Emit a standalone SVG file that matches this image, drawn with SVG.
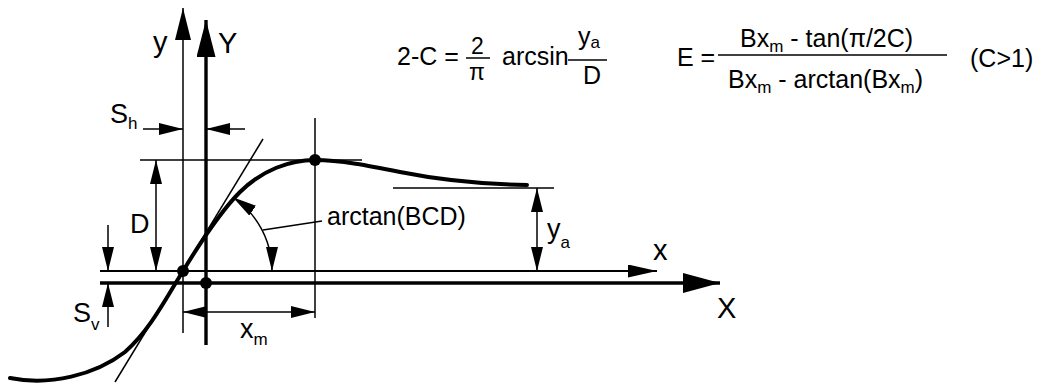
<svg xmlns="http://www.w3.org/2000/svg" width="1043" height="385" viewBox="0 0 1043 385">
<style>
text{font-family:"Liberation Sans",Arial,sans-serif;fill:#000}
.lbl{font-size:29px}
.dl{font-size:27px}
.fm{font-size:25px}
.fs{font-size:23px}
.sub{font-size:17px}
.thin{stroke:#000;stroke-width:1.5;fill:none}
.mid{stroke:#000;stroke-width:2.2;fill:none}
.thick{stroke:#000;stroke-width:3.4;fill:none}
.curve{stroke:#000;stroke-width:4;fill:none;stroke-linecap:round}
</style>
<defs>
<marker id="ad" markerUnits="userSpaceOnUse" markerWidth="24" markerHeight="12" refX="24" refY="6" orient="auto-start-reverse"><path d="M0,0 L24,6 L0,12 z" fill="#000"/></marker>
<marker id="ay" markerUnits="userSpaceOnUse" markerWidth="32" markerHeight="16" refX="32" refY="8" orient="auto"><path d="M0,0 L32,8 L0,16 z" fill="#000"/></marker>
<marker id="aY" markerUnits="userSpaceOnUse" markerWidth="37" markerHeight="19" refX="37" refY="9.5" orient="auto"><path d="M0,0 L37,9.5 L0,19 z" fill="#000"/></marker>
<marker id="ax" markerUnits="userSpaceOnUse" markerWidth="29" markerHeight="13" refX="29" refY="6.5" orient="auto"><path d="M0,0 L29,6.5 L0,13 z" fill="#000"/></marker>
<marker id="aX" markerUnits="userSpaceOnUse" markerWidth="37" markerHeight="20" refX="37" refY="10" orient="auto"><path d="M0,0 L37,10 L0,20 z" fill="#000"/></marker>
</defs>

<g id="axes">
<line id="axis-y" class="thin" x1="183" y1="333" x2="183" y2="8" marker-end="url(#ay)"/>
<line id="axis-Y" class="thick" x1="206" y1="345" x2="206" y2="20" marker-end="url(#aY)"/>
<line id="axis-x" class="mid" x1="100" y1="271" x2="657" y2="271" marker-end="url(#ax)"/>
<line id="axis-X" class="thick" x1="100" y1="283" x2="720" y2="283" marker-end="url(#aX)"/>
</g>

<g id="connectors">
<line class="thin" x1="140" y1="160" x2="362" y2="160"/>
<line class="thin" x1="393" y1="188" x2="554" y2="188"/>
<line class="thin" x1="315" y1="118" x2="315" y2="318"/>
<line class="thin" x1="263" y1="139" x2="115" y2="382"/>
<line class="thin" x1="143" y1="129" x2="183" y2="129" marker-end="url(#ad)"/>
<line class="thin" x1="245" y1="129" x2="206" y2="129" marker-end="url(#ad)"/>
<line class="thin" x1="108" y1="225" x2="108" y2="271" marker-end="url(#ad)"/>
<line class="thin" x1="108" y1="327" x2="108" y2="283" marker-end="url(#ad)"/>
<line class="thin" x1="156" y1="160" x2="156" y2="271" marker-start="url(#ad)" marker-end="url(#ad)"/>
<line class="thin" x1="537" y1="188" x2="537" y2="271" marker-start="url(#ad)" marker-end="url(#ad)"/>
<line class="thin" x1="183" y1="312" x2="315" y2="312" marker-start="url(#ad)" marker-end="url(#ad)"/>
<path class="thin" d="M232.8,197.2 A89,89 0 0 1 272,271" marker-start="url(#ad)" marker-end="url(#ad)"/>
<line class="thin" x1="263" y1="230" x2="322" y2="221"/>
</g>

<g id="curve">
<path class="curve" d="M10,378 C50,386 95,375 125,352 C150,330 165,300 183,271 C200,243 220,212 240,192 C262,170 290,160 315,160 C340,160 370,166 400,172 C430,178 470,184 527,185"/>
<circle cx="183" cy="271" r="6"/>
<circle cx="206" cy="283" r="6"/>
<circle cx="315" cy="160" r="6"/>
</g>

<g id="labels">
<text class="lbl" x="153" y="52">y</text>
<text class="lbl" x="218" y="53">Y</text>
<text class="lbl" x="653" y="260">x</text>
<text class="lbl" x="717" y="318">X</text>
<text class="dl" x="110" y="123">S<tspan class="sub" dy="6">h</tspan></text>
<text class="dl" x="130" y="233">D</text>
<text class="dl" x="73" y="322">S<tspan class="sub" dy="8">v</tspan></text>
<text class="dl" x="240" y="338">x<tspan class="sub" dy="7">m</tspan></text>
<text class="dl" x="547" y="238">y<tspan class="sub" dy="10">a</tspan></text>
<text class="fm" x="327" y="225">arctan(BCD)</text>
</g>

<g id="formula1">
<text class="fm" x="397" y="65">2-C =</text>
<text class="fs" x="471" y="54">2</text>
<line class="thin" x1="466" y1="58" x2="490" y2="58"/>
<text class="fs" x="469" y="80">π</text>
<text class="fm" x="502" y="65">arcsin</text>
<text class="fm" x="578" y="45">y<tspan class="sub" dy="3">a</tspan></text>
<line class="thin" x1="568" y1="60" x2="607" y2="60"/>
<text class="fm" x="583" y="84">D</text>
</g>

<g id="formula2">
<text class="fm" x="677" y="66">E =</text>
<line class="thin" x1="718" y1="55" x2="947" y2="55"/>
<text class="fm" x="740" y="47">Bx<tspan class="sub" dy="5">m</tspan><tspan dy="-5"> - tan(π/2C)</tspan></text>
<text class="fm" x="728" y="88">Bx<tspan class="sub" dy="5">m</tspan><tspan dy="-5"> - arctan(Bx</tspan><tspan class="sub" dy="5">m</tspan><tspan dy="-5">)</tspan></text>
<text class="fm" x="970" y="67">(C&gt;1)</text>
</g>
</svg>
